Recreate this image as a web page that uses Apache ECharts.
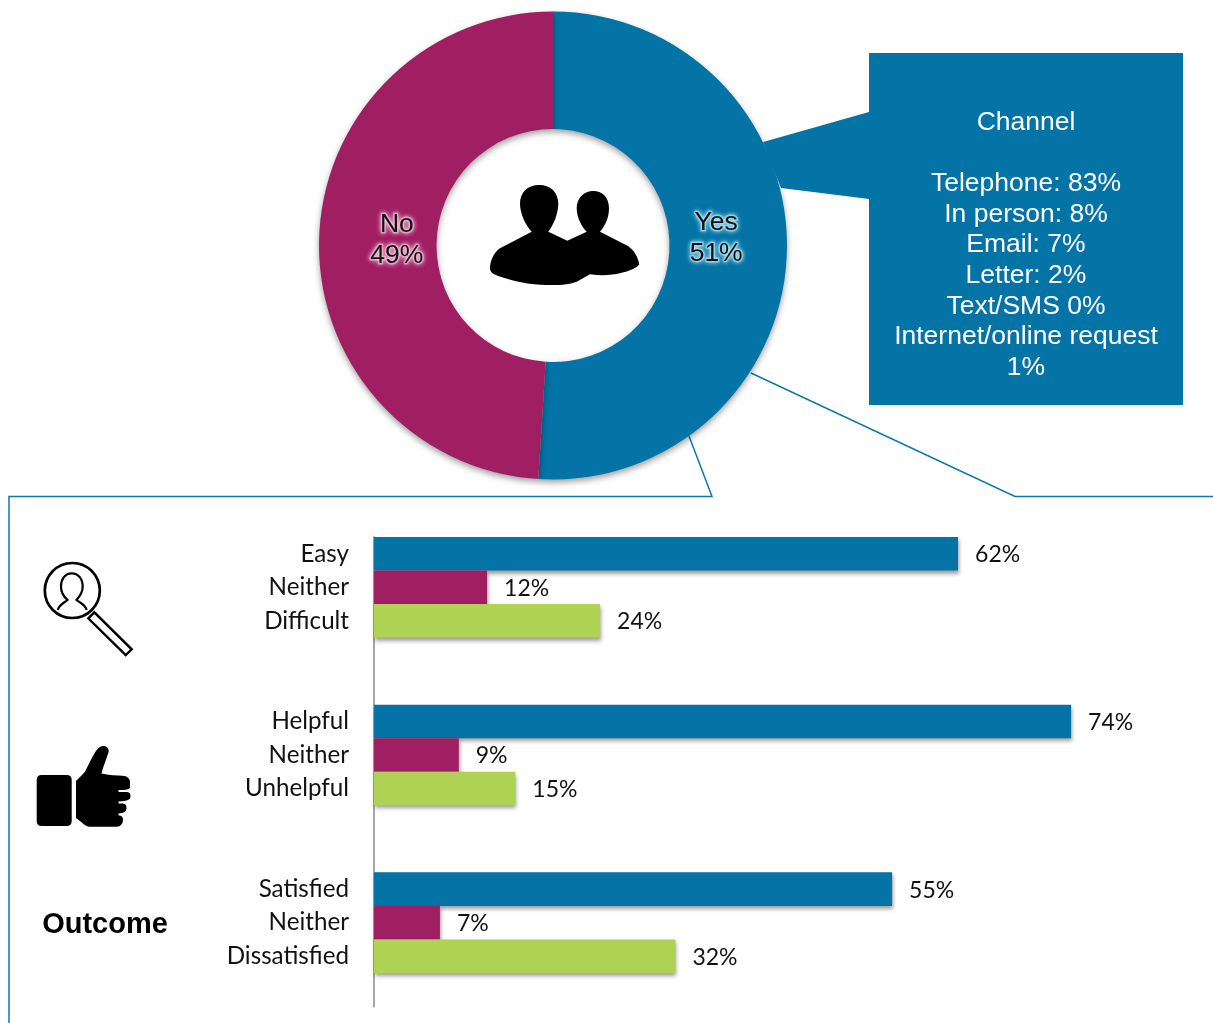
<!DOCTYPE html>
<html>
<head>
<meta charset="utf-8">
<title>Contact channel and outcome</title>
<script src="https://cdn.jsdelivr.net/npm/echarts@6/dist/echarts.min.js"></script>
<style>
  html, body { margin: 0; padding: 0; background: #fff; }
  #chart { width: 1213px; height: 1023px; }
</style>
</head>
<body>
<div id="chart"></div>
<script>
// Share of respondents who made contact
const contactNames = ['Yes', 'No'];
const contactValues = [51, 49];

// Contact channel breakdown shown in the callout
const channelTitle = 'Channel';
const channelLines = [
  'Telephone: 83%',
  'In person: 8%',
  'Email: 7%',
  'Letter: 2%',
  'Text/SMS 0%',
  'Internet/online request',
  '1%'
];

// Rows of the bar chart; blank rows separate the three groups
const rowLabels = [
  'Easy', 'Neither', 'Difficult', '', '',
  'Helpful', 'Neither', 'Unhelpful', '', '',
  'Satisfied', 'Neither', 'Dissatisfied', ''
];
const positiveValues = [62, null, null, null, null, 74, null, null, null, null, 55, null, null, null];
const neutralValues  = [null, 12, null, null, null, null, 9, null, null, null, null, 7, null, null];
const negativeValues = [null, null, 24, null, null, null, null, 15, null, null, null, null, 32, null];

const BLUE = '#0473a5';
const MAGENTA = '#a01f62';
const GREEN = '#afd255';
const FRAME = '#0c78a8';
const SANS = '"Liberation Sans", Arial, sans-serif';
const BODY = 'Lato, "Open Sans", sans-serif';

const barShadow = {
  shadowColor: 'rgba(0,0,0,0.38)',
  shadowBlur: 4,
  shadowOffsetX: 1,
  shadowOffsetY: 3
};

function barSeries(name, values, color) {
  return {
    name: name,
    type: 'bar',
    stack: 'row',
    barCategoryGap: 0,
    data: values,
    silent: true,
    itemStyle: Object.assign({ color: color }, barShadow),
    label: {
      show: true,
      position: 'right',
      distance: 17,
      offset: [0, 1],
      formatter: '{c}%',
      color: '#111',
      fontFamily: BODY,
      fontSize: 23
    }
  };
}

// Icons are registered as custom shapes so the graphic component can place them
function registerIcon(name, pathData) {
  echarts.graphic.registerShape(name, echarts.graphic.extendPath(pathData, {}));
}

registerIcon('peopleIcon',
  'M539.3,185 C527,185 520,193 520,203.5 C520,214 526,226 531.7,231.7 L500,248.3 ' +
  'C494,252 490,261 490,268.3 C490,272 493,274 497,275.5 C512,281 530,285 546.7,285 ' +
  'C558,285 568,285 576.7,281.7 L590,274.3 C602,276 613,275 620,273.3 C630,271 637,268 639.3,264.3 ' +
  'C638,257 634,250 628,246 L600,231.7 C605,226 609,218 609,208.3 C609,198 603,191 593.3,191 ' +
  'C584,191 576.7,198 576.7,208.3 C576.7,218 582,227 586.7,231.7 L567.3,240.7 L548.3,231.7 ' +
  'C553,226 558.3,214 558.3,203.5 C558.3,193 551,185 539.3,185 Z');

registerIcon('lensPerson',
  'M57.7,610 C59.5,604 64,603 67.5,600 C63,596 61,591 61,586.7 C61,579 65,573.3 71.7,573.3 ' +
  'C78.5,573.3 82.7,579 82.7,586.7 C82.7,591 80,596 76.5,600 C80,603 85,604 86.7,610');

registerIcon('lensHandle', 'M88.3,618.3 L94.3,612.3 L131.7,649.3 L125.7,655 Z');

registerIcon('thumbPalm',
  'M41.7,775 L66.7,775 Q71.7,775 71.7,780 L71.7,821 Q71.7,826 66.7,826 L41.7,826 Q36.7,826 36.7,821 ' +
  'L36.7,780 Q36.7,775 41.7,775 Z');

registerIcon('thumbHand',
  'M76,781 C79,778 82,775 85,771.7 C89,764 93,755 96.7,750 C99,746.5 102,745.5 104.5,746 ' +
  'C108,747 109.5,750 108.3,753 C106,760 103,767 101.5,773.5 C108,775 117,775.5 125,776 ' +
  'C128,777 130,779 130,782 L130,787 C130,789.5 126,790 118.5,790 L118.5,792 L127,792 ' +
  'C130,792.5 130.5,794 130.5,796 C130.5,800 128,801 118.5,801.5 L118.5,803.5 L123,803.5 ' +
  'C126,804 126.5,806 126.5,808 C126.5,812 124,813 118.5,813.5 L118.5,815.5 C122,815.5 123,817 123,820 ' +
  'C123,824 120,826.7 117,826.7 L89,826.7 C84,826 80,820 76,818.3 Z');

function icon(type, style) {
  return { type: type, silent: true, z: 11, shape: {}, style: style };
}

const option = {
  animation: false,
  backgroundColor: '#fff',
  grid: { left: 374, top: 537, width: 753.6, height: 469.5, containLabel: false },
  xAxis: { type: 'value', min: 0, max: 80, show: false },
  yAxis: {
    type: 'category',
    inverse: true,
    data: rowLabels,
    axisLine: { show: true, lineStyle: { color: '#a6a6a6', width: 2 } },
    axisTick: { show: false },
    splitLine: { show: false },
    axisLabel: {
      show: true,
      interval: 0,
      margin: 25,
      color: '#111',
      fontFamily: BODY,
      fontSize: 24.2
    }
  },
  series: [
    barSeries('Positive', positiveValues, BLUE),
    barSeries('Neither', neutralValues, MAGENTA),
    barSeries('Negative', negativeValues, GREEN),
    {
      type: 'pie',
      center: [553, 245.5],
      radius: [116.5, 234],
      startAngle: 90,
      clockwise: true,
      silent: true,
      avoidLabelOverlap: false,
      data: [
        {
          name: contactNames[0],
          value: contactValues[0],
          itemStyle: { color: BLUE },
          label: {
            textBorderColor: 'rgba(170,225,245,0.6)',
            textShadowColor: 'rgba(190,235,250,1)'
          }
        },
        {
          name: contactNames[1],
          value: contactValues[1],
          itemStyle: { color: MAGENTA },
          label: {
            textBorderColor: 'rgba(245,190,220,0.6)',
            textShadowColor: 'rgba(250,205,230,1)'
          }
        }
      ],
      // Labels sit nearer the hole than the middle of the ring
      labelLayout: function (params) {
        return params.dataIndex === 0 ? { dx: -15, dy: -12.5 } : { dx: 22, dy: 0.5 };
      },
      itemStyle: {
        shadowColor: 'rgba(0,0,0,0.38)',
        shadowBlur: 6,
        shadowOffsetX: 0,
        shadowOffsetY: 3
      },
      label: {
        show: true,
        position: 'inside',
        formatter: '{b}\n{c}%',
        color: '#111',
        fontFamily: SANS,
        fontSize: 26.5,
        lineHeight: 31,
        textBorderWidth: 3,
        textShadowBlur: 5
      },
      labelLine: { show: false }
    }
  ],
  graphic: [
    {
      type: 'polyline',
      silent: true,
      shape: { points: [[689, 436], [712, 496.5], [9, 496.5], [9, 1023]] },
      style: { stroke: FRAME, lineWidth: 1.5, fill: null }
    },
    {
      type: 'polyline',
      silent: true,
      shape: { points: [[751, 373], [1015, 496.5], [1213, 496.5]] },
      style: { stroke: FRAME, lineWidth: 1.5, fill: null }
    },
    {
      type: 'polygon',
      silent: true,
      z: 10,
      shape: {
        points: [[869, 53], [1183, 53], [1183, 405], [869, 405], [869, 199], [781, 188], [763, 142], [869, 112]]
      },
      style: { fill: BLUE }
    },
    {
      type: 'text',
      silent: true,
      z: 11,
      style: {
        text: [channelTitle, ''].concat(channelLines).join('\n'),
        x: 1026,
        y: 245,
        align: 'center',
        verticalAlign: 'middle',
        fill: '#fff',
        font: '26.5px ' + SANS,
        lineHeight: 30.6
      }
    },
    icon('peopleIcon', { fill: '#000' }),
    {
      type: 'circle',
      silent: true,
      z: 11,
      shape: { cx: 72.3, cy: 590.5, r: 27.5 },
      style: { stroke: '#000', lineWidth: 2.7, fill: null }
    },
    icon('lensPerson', { stroke: '#000', lineWidth: 2.2, fill: null }),
    icon('lensHandle', { stroke: '#000', lineWidth: 2.4, fill: null }),
    icon('thumbPalm', { fill: '#000' }),
    icon('thumbHand', { fill: '#000' }),
    {
      type: 'text',
      silent: true,
      z: 11,
      style: {
        text: 'Outcome',
        x: 105,
        y: 924.5,
        align: 'center',
        verticalAlign: 'middle',
        fill: '#000',
        font: 'bold 29px ' + SANS
      }
    }
  ]
};

echarts.init(document.getElementById('chart'), null, { renderer: 'canvas' }).setOption(option);
</script>
</body>
</html>
